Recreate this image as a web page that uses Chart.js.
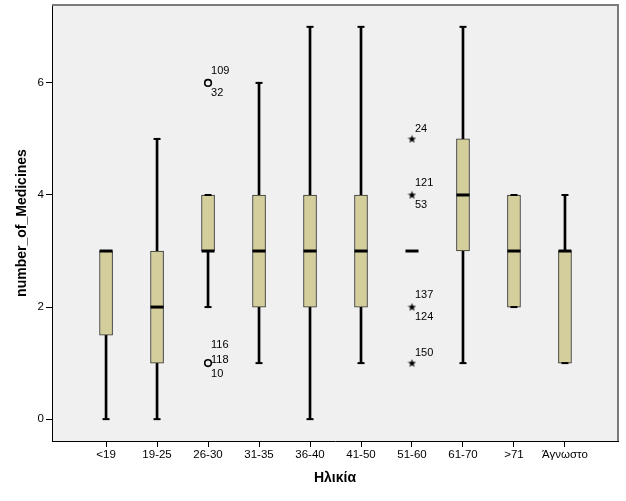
<!DOCTYPE html>
<html>
<head>
<meta charset="utf-8">
<script src="https://cdn.jsdelivr.net/npm/chart.js@4.4.1/dist/chart.umd.min.js"></script>
<style>
  html, body { margin: 0; padding: 0; background: #fff; }
  #wrap { width: 626px; height: 501px; position: relative; }
</style>
</head>
<body>
<div id="wrap"><canvas id="boxChart"></canvas></div>
<script>
// Age groups and the five-number summaries
var categories = ['<19', '19-25', '26-30', '31-35', '36-40', '41-50', '51-60', '61-70', '>71', 'Άγνωστο'];
var whiskerLow  = [0,   0, 2, 1, 0, 1, 3, 1, 2, 1];
var q1          = [1.5, 1, 3, 2, 2, 2, 3, 3, 2, 1];
var median      = [3,   2, 3, 3, 3, 3, 3, 4, 3, 3];
var q3          = [3,   3, 4, 4, 4, 4, 3, 5, 4, 3];
var whiskerHigh = [3,   5, 4, 6, 7, 7, 3, 7, 4, 4];

// outliers (circles) and extremes (stars) with their case numbers
var outlierCat = [2, 2];
var outlierVal = [6, 1];
var outlierIds = [['109', '32'], ['116', '118', '10']];
var extremeCat = [6, 6, 6, 6];
var extremeVal = [5, 4, 2, 1];
var extremeIds = [['24'], ['121', '53'], ['137', '124'], ['150']];

var yTicks = [0, 2, 4, 6];

var FONT = "'Liberation Sans', Arial, sans-serif";

window.onload = function() {
    // small filled star used as point style for extremes
    var star = document.createElement('canvas');
    star.width = 9; star.height = 9;
    var sc = star.getContext('2d');
    sc.beginPath();
    for (var k = 0; k < 10; k++) {
        var r = k % 2 === 0 ? 4.4 : 1.8;
        var a = -Math.PI / 2 + k * Math.PI / 5;
        var px = 4.5 + r * Math.cos(a), py = 4.8 + r * Math.sin(a);
        if (k === 0) sc.moveTo(px, py); else sc.lineTo(px, py);
    }
    sc.closePath();
    sc.fillStyle = '#000';
    sc.fill();

    var plotBg = {
        id: 'plotBg',
        beforeDraw: function(chart) {
            var a = chart.chartArea, ctx = chart.ctx;
            ctx.save();
            ctx.fillStyle = '#f0f0f0';
            ctx.fillRect(a.left, a.top, a.right - a.left, a.bottom - a.top);
            ctx.restore();
        },
        afterDraw: function(chart) {
            var a = chart.chartArea, ctx = chart.ctx;
            ctx.save();
            ctx.strokeStyle = '#7a7a7a';
            ctx.lineWidth = 2;
            ctx.beginPath();
            ctx.moveTo(a.left, a.top);
            ctx.lineTo(a.right, a.top);
            ctx.lineTo(a.right, a.bottom);
            ctx.stroke();
            ctx.restore();
        }
    };

    var offsetsFor = function(n) {
        if (n === 1) return [-10];
        if (n === 2) return [-12, 10];
        return [-18, -3, 11];
    };

    var caseLabels = {
        id: 'caseLabels',
        afterDatasetsDraw: function(chart) {
            var xs = chart.scales.x, ys = chart.scales.y, ctx = chart.ctx;
            ctx.save();
            ctx.font = '11px ' + FONT;
            ctx.fillStyle = '#000';
            ctx.textAlign = 'left';
            ctx.textBaseline = 'middle';
            var draw = function(cats, vals, ids) {
                for (var i = 0; i < cats.length; i++) {
                    var px = xs.getPixelForValue(cats[i]);
                    var py = ys.getPixelForValue(vals[i]);
                    var offs = offsetsFor(ids[i].length);
                    for (var j = 0; j < ids[i].length; j++) {
                        ctx.fillText(ids[i][j], px + 3, py + offs[j]);
                    }
                }
            };
            draw(outlierCat, outlierVal, outlierIds);
            draw(extremeCat, extremeVal, extremeIds);
            ctx.restore();
        }
    };

    var idx = categories.map(function(c, i) { return i; });

    var ctx = document.getElementById('boxChart').getContext('2d');
    var boxChart = new Chart(ctx, {
        type: 'bar',
        data: {
            datasets: [{
                // whiskers
                data: idx.map(function(i) { return {x: i, y: [whiskerLow[i], whiskerHigh[i]]}; }),
                backgroundColor: '#000',
                borderWidth: 0,
                barThickness: 2,
                grouped: false,
                order: 5
            }, {
                // boxes
                data: idx.map(function(i) { return {x: i, y: [q1[i], q3[i]]}; }),
                backgroundColor: '#d3ce9b',
                borderColor: '#2e2e2e',
                borderWidth: 1,
                borderSkipped: false,
                barThickness: 13,
                grouped: false,
                order: 4
            }, {
                // whisker caps
                type: 'scatter',
                data: idx.map(function(i) { return {x: i, y: whiskerLow[i]}; })
                    .concat(idx.map(function(i) { return {x: i, y: whiskerHigh[i]}; })),
                pointStyle: 'line',
                radius: 3.5,
                borderWidth: 2,
                borderColor: '#000',
                order: 3
            }, {
                // medians
                type: 'scatter',
                data: idx.map(function(i) { return {x: i, y: median[i]}; }),
                pointStyle: 'line',
                radius: 6.5,
                borderWidth: 3,
                borderColor: '#000',
                order: 2
            }, {
                // outliers
                type: 'scatter',
                data: outlierCat.map(function(c, i) { return {x: c, y: outlierVal[i]}; }),
                pointStyle: 'circle',
                radius: 3.3,
                borderWidth: 1.6,
                borderColor: '#000',
                backgroundColor: 'rgba(0,0,0,0)',
                order: 1
            }, {
                // extremes
                type: 'scatter',
                data: extremeCat.map(function(c, i) { return {x: c, y: extremeVal[i]}; }),
                pointStyle: star,
                order: 0
            }]
        },
        options: {
            responsive: true,
            maintainAspectRatio: false,
            animation: false,
            events: [],
            layout: { autoPadding: false, padding: { left: 0, right: 8, top: 5, bottom: 0 } },
            plugins: {
                legend: { display: false },
                tooltip: { enabled: false }
            },
            scales: {
                x: {
                    type: 'linear',
                    min: -1.06,
                    max: 10.04,
                    offset: false,
                    afterBuildTicks: function(axis) {
                        axis.ticks = idx.map(function(i) { return {value: i}; });
                    },
                    afterFit: function(axis) {
                        axis.height = 60;
                        axis.paddingLeft = 0;
                        axis.paddingRight = 0;
                    },
                    ticks: {
                        autoSkip: false,
                        maxRotation: 0,
                        padding: 1,
                        color: '#000',
                        font: { family: FONT, size: 11.5 },
                        callback: function(v) { return categories[v]; }
                    },
                    grid: { offset: false, drawOnChartArea: false, tickLength: 6, color: '#000' },
                    border: { color: '#000', width: 1 },
                    title: {
                        display: true,
                        text: 'Ηλικία',
                        color: '#000',
                        font: { family: FONT, size: 14, weight: 'bold' },
                        padding: { top: 0, bottom: 14 }
                    }
                },
                y: {
                    type: 'linear',
                    min: -0.39,
                    max: 7.39,
                    afterBuildTicks: function(axis) {
                        axis.ticks = yTicks.map(function(v) { return {value: v}; });
                    },
                    afterFit: function(axis) {
                        axis.width = 52;
                        axis.paddingTop = 0;
                        axis.paddingBottom = 0;
                    },
                    ticks: {
                        padding: 2,
                        color: '#000',
                        font: { family: FONT, size: 11.5 }
                    },
                    grid: { drawOnChartArea: false, tickLength: 6, color: '#000' },
                    border: { color: '#000', width: 1 },
                    title: {
                        display: true,
                        text: 'number_of_Medicines',
                        color: '#000',
                        font: { family: FONT, size: 14, weight: 'bold' },
                        padding: { top: 14, bottom: 0 }
                    }
                }
            }
        },
        plugins: [plotBg, caseLabels]
    });
};
</script>
</body>
</html>
